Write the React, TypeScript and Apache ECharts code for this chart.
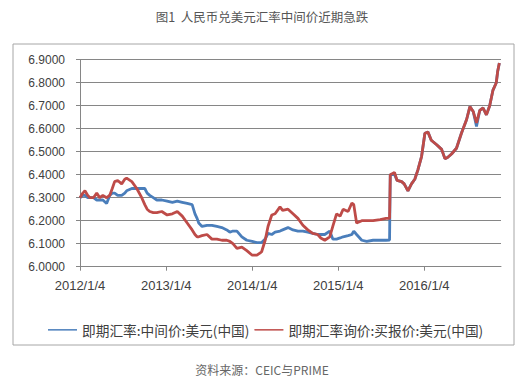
import React, { useEffect, useRef } from "react";
import * as echarts from "echarts";

const titleText = "图1  人民币兑美元汇率中间价近期急跌";
const sourceText = "资料来源：CEIC与PRIME";
const seriesNames = ["即期汇率:中间价:美元(中国)", "即期汇率询价:买报价:美元(中国)"];
const tickDates = ["2012-01-04", "2013-01-04", "2014-01-04", "2015-01-04", "2016-01-04"];
const yTicks = { min: 6.0, max: 6.9, interval: 0.1 };

const dates = [
  "2012-01-04", "2012-01-16", "2012-01-25", "2012-02-06", "2012-02-15", "2012-03-01", "2012-03-15", "2012-03-28",
  "2012-04-10", "2012-04-26", "2012-05-09", "2012-05-20", "2012-05-30", "2012-06-12", "2012-06-29", "2012-07-12",
  "2012-07-20", "2012-08-11", "2012-09-01", "2012-09-22", "2012-10-05", "2012-10-15", "2012-10-26", "2012-11-10",
  "2012-11-25", "2012-12-16", "2013-01-08", "2013-01-30", "2013-02-20", "2013-03-13", "2013-04-03", "2013-04-24",
  "2013-05-06", "2013-05-15", "2013-05-22", "2013-06-05", "2013-06-26", "2013-07-17", "2013-08-07", "2013-08-28",
  "2013-09-18", "2013-10-01", "2013-10-14", "2013-10-31", "2013-11-21", "2013-12-12", "2014-01-04", "2014-01-24",
  "2014-02-07", "2014-02-13", "2014-02-28", "2014-03-12", "2014-03-28", "2014-04-11", "2014-05-02", "2014-05-13",
  "2014-06-05", "2014-06-26", "2014-07-17", "2014-08-07", "2014-08-28", "2014-09-18", "2014-10-09", "2014-10-22",
  "2014-11-08", "2014-11-29", "2014-12-12", "2014-12-28", "2015-01-12", "2015-01-25", "2015-02-15", "2015-03-03",
  "2015-03-11", "2015-03-23", "2015-04-14", "2015-05-05", "2015-06-01", "2015-07-01", "2015-07-26", "2015-08-10",
  "2015-08-13", "2015-08-31", "2015-09-11", "2015-09-30", "2015-10-11", "2015-10-27", "2015-11-11", "2015-11-25",
  "2015-12-08", "2015-12-24", "2016-01-07", "2016-01-20", "2016-02-03", "2016-02-26", "2016-03-18", "2016-04-01",
  "2016-04-12", "2016-04-29", "2016-05-20", "2016-06-10", "2016-07-02", "2016-07-16", "2016-07-30", "2016-08-13",
  "2016-08-27", "2016-09-10", "2016-09-24", "2016-10-08", "2016-10-22", "2016-11-05", "2016-11-11", "2016-11-18",
];

const midRate = [
  6.30, 6.31, 6.31, 6.30, 6.30, 6.30, 6.29, 6.29,
  6.29, 6.275, 6.31, 6.32, 6.32, 6.31, 6.31, 6.32,
  6.33, 6.34, 6.34, 6.34, 6.34, 6.32, 6.31, 6.30,
  6.29, 6.29, 6.285, 6.28, 6.285, 6.28, 6.275, 6.27,
  6.23, 6.21, 6.19, 6.175, 6.18, 6.18, 6.175, 6.17,
  6.16, 6.15, 6.155, 6.155, 6.13, 6.115, 6.11, 6.105,
  6.105, 6.105, 6.12, 6.145, 6.14, 6.15, 6.155, 6.16,
  6.17, 6.16, 6.155, 6.155, 6.15, 6.145, 6.14, 6.14,
  6.14, 6.155, 6.12, 6.12, 6.125, 6.13, 6.135, 6.14,
  6.155, 6.14, 6.115, 6.11, 6.115, 6.115, 6.115, 6.116,
  6.40, 6.40, 6.375, 6.37, 6.36, 6.33, 6.36, 6.38,
  6.42, 6.48, 6.58, 6.585, 6.55, 6.53, 6.51, 6.47,
  6.475, 6.49, 6.515, 6.58, 6.64, 6.696, 6.675, 6.61,
  6.68, 6.69, 6.66, 6.70, 6.768, 6.80, 6.85, 6.886,
];

const askRate = [
  6.30, 6.32, 6.33, 6.31, 6.30, 6.30, 6.32, 6.30,
  6.31, 6.30, 6.31, 6.34, 6.37, 6.375, 6.36, 6.38,
  6.385, 6.37, 6.34, 6.30, 6.27, 6.25, 6.24, 6.235,
  6.235, 6.24, 6.225, 6.23, 6.24, 6.22, 6.19, 6.16,
  6.14, 6.13, 6.13, 6.135, 6.14, 6.12, 6.12, 6.115,
  6.115, 6.11, 6.10, 6.08, 6.085, 6.07, 6.05, 6.05,
  6.06, 6.065, 6.115, 6.175, 6.225, 6.23, 6.26, 6.245,
  6.25, 6.23, 6.21, 6.18, 6.16, 6.145, 6.14, 6.125,
  6.115, 6.13, 6.175, 6.23, 6.22, 6.25, 6.24, 6.277,
  6.27, 6.19, 6.20, 6.20, 6.20, 6.205, 6.21, 6.21,
  6.40, 6.41, 6.375, 6.37, 6.36, 6.33, 6.36, 6.38,
  6.42, 6.48, 6.58, 6.585, 6.55, 6.53, 6.51, 6.47,
  6.475, 6.49, 6.515, 6.58, 6.64, 6.696, 6.675, 6.625,
  6.68, 6.69, 6.66, 6.70, 6.768, 6.80, 6.85, 6.886,
];

const ts = (s: string) => {
  const [y, m, d] = s.split("-").map(Number);
  return Date.UTC(y, m - 1, d);
};

export default function App() {
  const ref = useRef<HTMLDivElement>(null);
  useEffect(() => {
    if (!ref.current) return;
    const chart = echarts.init(ref.current, undefined, { renderer: "svg" });
    const tickTs = tickDates.map(ts);
    const axisGray = "#868686";
    chart.setOption({
      animation: false,
      backgroundColor: "#ffffff",
      textStyle: { fontFamily: "'Liberation Sans', 'Noto Sans CJK SC', sans-serif" },
      grid: { left: 80, right: 18, top: 59.7, bottom: 113.3, containLabel: false },
      legend: {
        top: 318,
        left: 43,
        width: 470,
        icon: "rect",
        itemWidth: 29,
        itemHeight: 1.5,
        itemGap: 5,
        textStyle: { fontSize: 13.7, color: "#404040", fontFamily: "'Noto Sans CJK SC', sans-serif" },
        data: seriesNames,
      },
      xAxis: {
        type: "value",
        min: ts("2012-01-04"),
        max: ts("2016-11-25"),
        axisLine: { lineStyle: { color: axisGray, width: 1 } },
        axisTick: { show: true, length: 4, customValues: tickTs, lineStyle: { color: axisGray } },
        axisLabel: {
          customValues: tickTs,
          fontSize: 13,
          color: "#404040",
          margin: 12,
          formatter: (v: number) => {
            const d = new Date(v);
            return `${d.getUTCFullYear()}/${d.getUTCMonth() + 1}/${d.getUTCDate()}`;
          },
        },
        splitLine: { show: false },
      },
      yAxis: {
        type: "value",
        min: yTicks.min,
        max: yTicks.max,
        interval: yTicks.interval,
        axisLine: { show: true, lineStyle: { color: axisGray, width: 1 } },
        axisTick: { show: true, length: 4, lineStyle: { color: axisGray } },
        axisLabel: {
          fontSize: 12,
          color: "#404040",
          margin: 15,
          formatter: (v: number) => v.toFixed(4),
        },
        splitLine: { show: true, lineStyle: { color: axisGray, width: 1 } },
      },
      graphic: [
        {
          type: "rect",
          shape: { x: 13, y: 44, width: 501, height: 301 },
          style: { fill: "none", stroke: "#a6a6a6", lineWidth: 1 },
          z: -1,
        },
        {
          type: "text",
          x: 262,
          y: 16,
          style: {
            text: titleText,
            fill: "#555555",
            fontSize: 12.5,
            fontFamily: "'Noto Sans CJK SC', sans-serif",
            align: "center",
            verticalAlign: "middle",
          },
        },
        {
          type: "text",
          x: 262,
          y: 369,
          style: {
            text: sourceText,
            fill: "#666666",
            fontSize: 12,
            fontFamily: "'Noto Sans CJK SC', sans-serif",
            align: "center",
            verticalAlign: "middle",
          },
        },
      ],
      series: [
        {
          name: seriesNames[0],
          type: "line",
          showSymbol: false,
          color: "#4A7EBB",
          lineStyle: { width: 2.8, color: "#4A7EBB" },
          data: dates.map((d, i) => [ts(d), midRate[i]]),
          z: 2,
        },
        {
          name: seriesNames[1],
          type: "line",
          showSymbol: false,
          color: "#BE4B48",
          lineStyle: { width: 2.8, color: "#BE4B48" },
          data: dates.map((d, i) => [ts(d), askRate[i]]),
          z: 3,
        },
      ],
    });
    return () => chart.dispose();
  }, []);
  return (
    <div
      ref={ref}
      style={{ position: "fixed", left: 0, top: 0, width: 519, height: 380 }}
    />
  );
}
